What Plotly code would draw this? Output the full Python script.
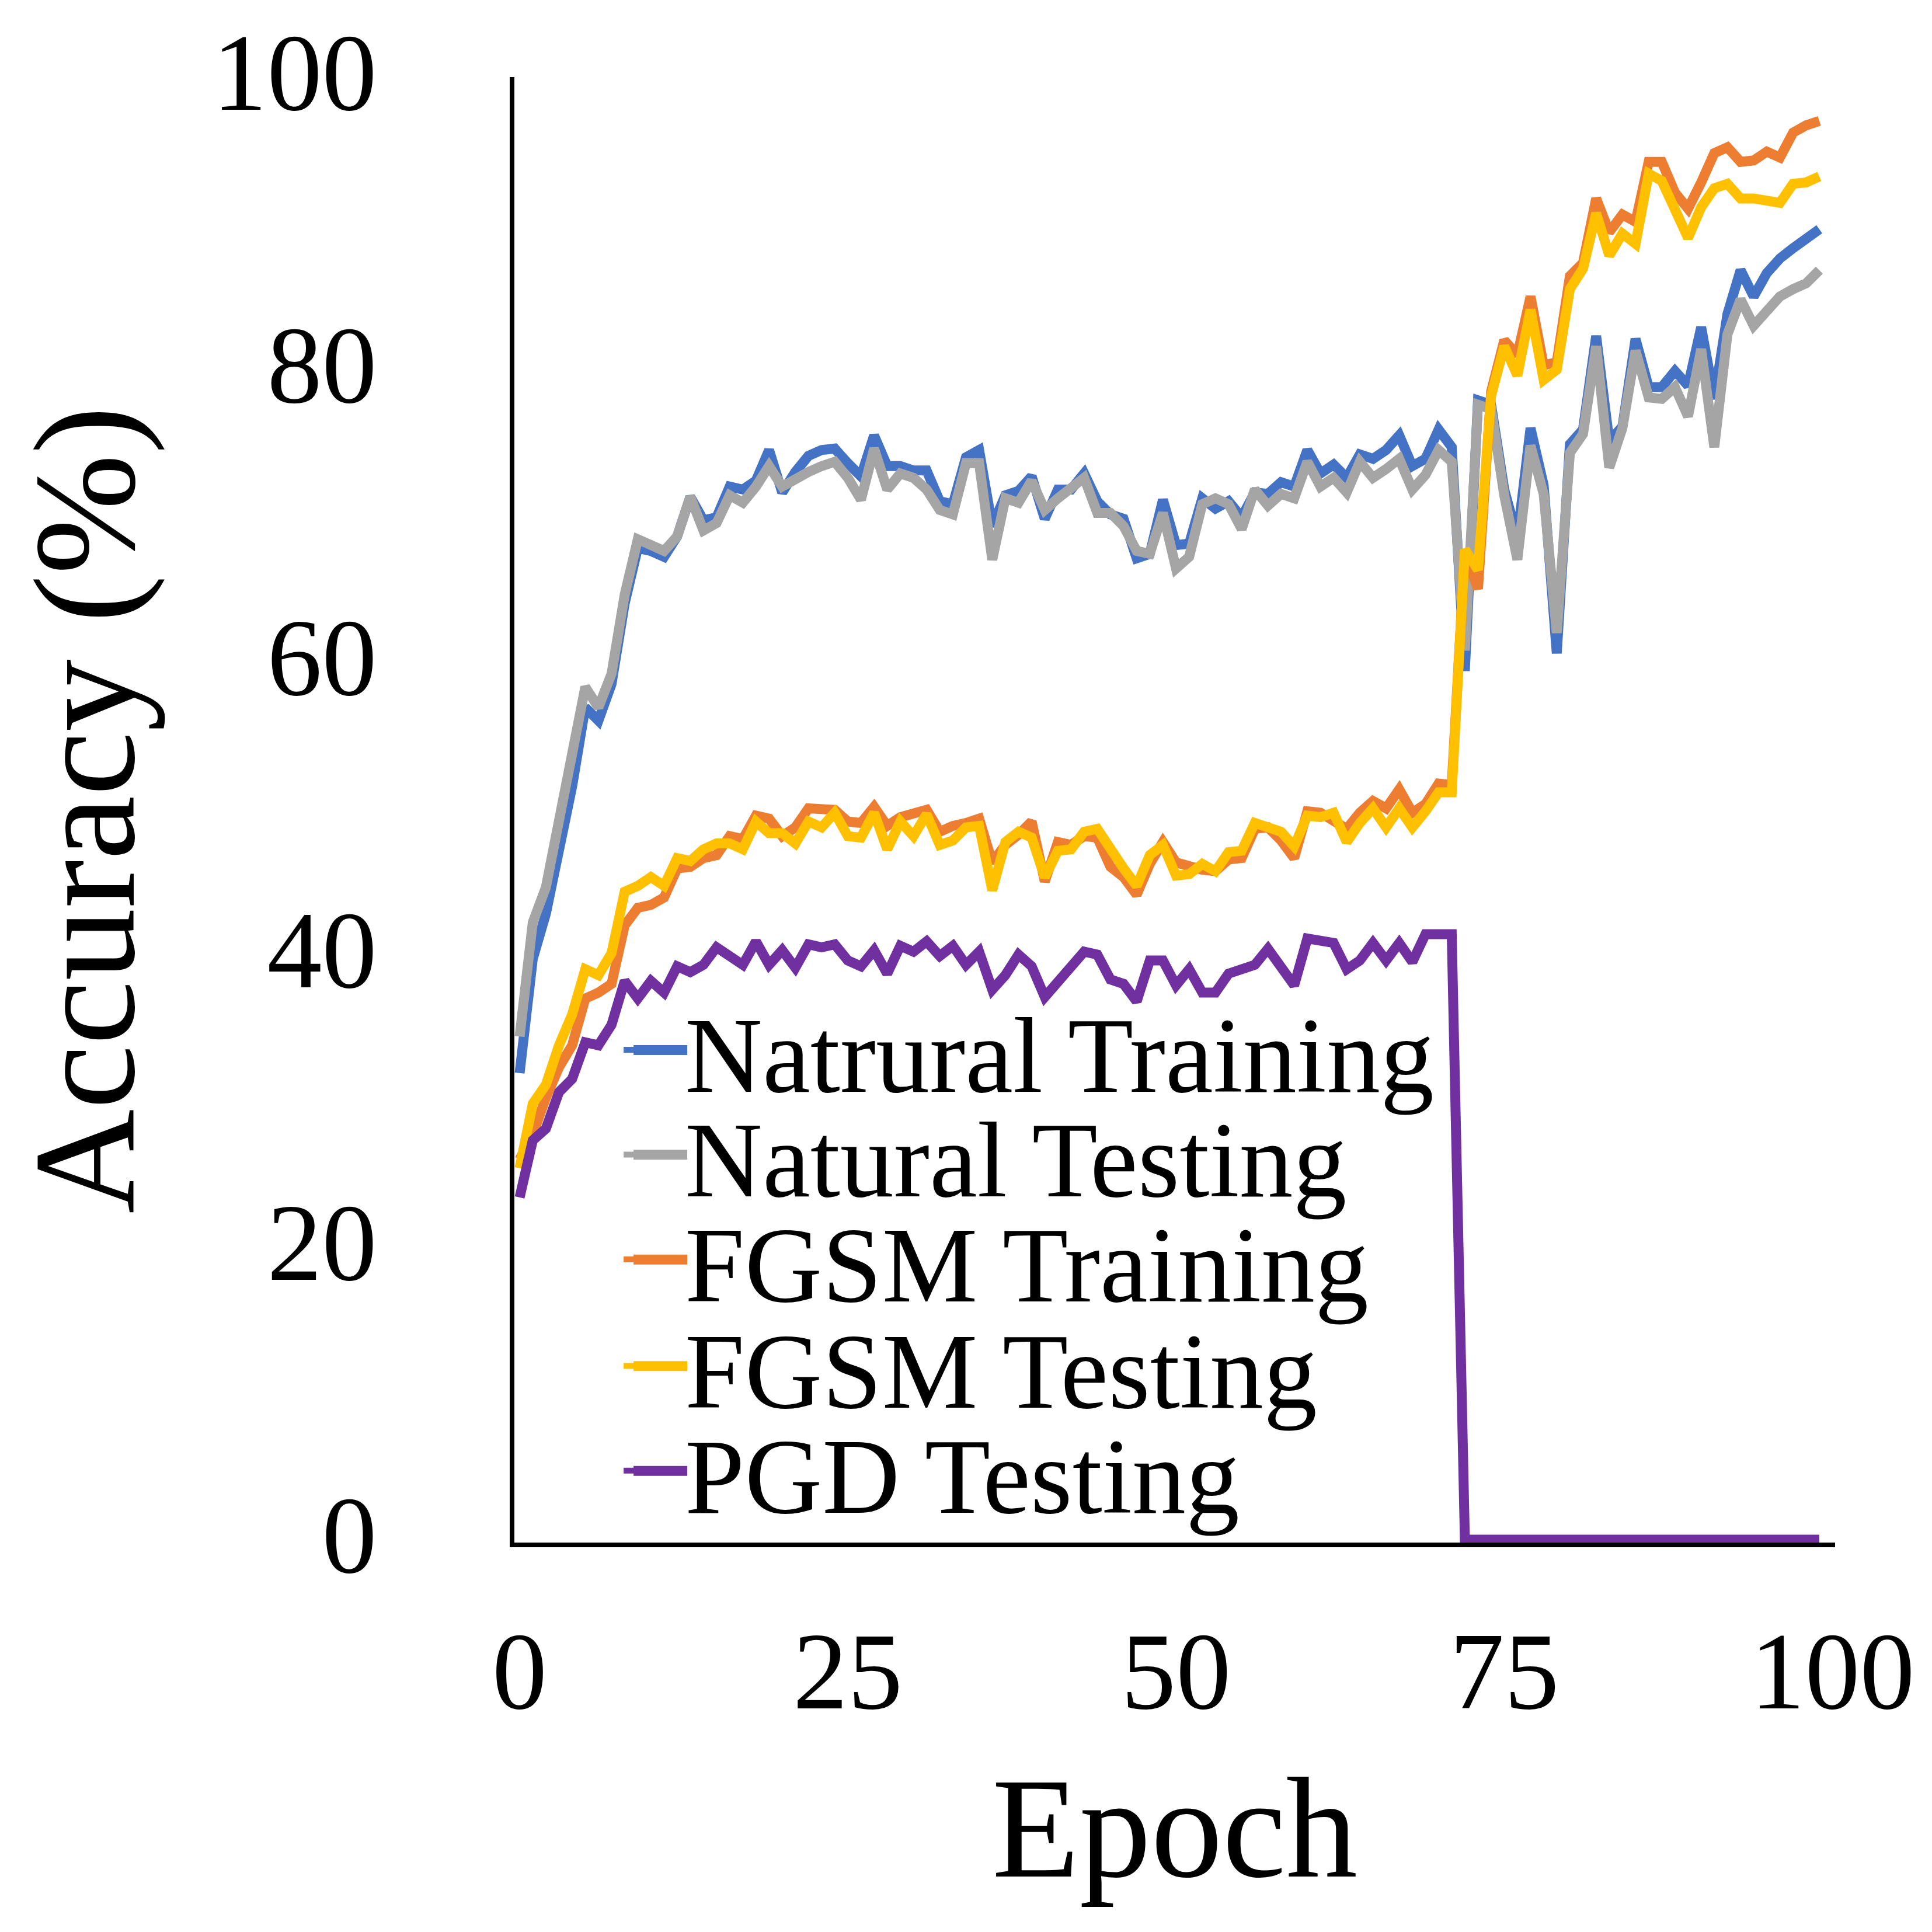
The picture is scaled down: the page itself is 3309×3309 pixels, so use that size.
import plotly.graph_objects as go

epochs = list(range(100))

natural_train = [31.9, 39.7, 42.8, 47.0, 51.5, 56.9, 56.0, 58.5, 64.0, 67.8,
                 67.6, 67.2, 68.6, 71.3, 69.7, 69.9, 72.0, 71.8, 72.4, 74.5,
                 71.6, 73.0, 74.1, 74.5, 74.6, 73.6, 72.7, 75.5, 73.4, 73.4,
                 73.1, 73.1, 71.0, 70.8, 74.0, 74.5, 69.3, 71.4, 71.7, 72.7,
                 69.8, 71.8, 71.8, 72.9, 71.0, 70.1, 69.8, 67.1, 67.4, 71.1,
                 68.0, 68.1, 71.2, 70.5, 71.0, 69.9, 71.6, 71.5, 72.3, 72.0,
                 74.5, 72.9, 73.5, 72.6, 74.2, 73.9, 74.5, 75.5, 73.4, 73.9,
                 75.9, 74.7, 59.4, 77.9, 77.6, 71.8, 68.5, 76.0, 72.1, 60.6,
                 74.9, 75.9, 82.3, 75.1, 76.1, 82.1, 78.8, 78.8, 79.9, 78.9,
                 82.9, 78.0, 83.8, 86.8, 85.0, 86.6, 87.6, 88.3, 89.0, 89.6]

natural_test = [34.4, 42.2, 44.6, 49.3, 53.7, 58.3, 56.9, 59.2, 64.6, 68.4,
                68.0, 67.6, 68.6, 71.3, 69.0, 69.5, 71.4, 70.9, 72.0, 73.4,
                72.0, 72.6, 73.0, 73.4, 73.7, 72.6, 71.1, 74.6, 71.8, 72.9,
                72.6, 71.8, 70.4, 70.1, 73.6, 73.6, 67.0, 71.2, 70.9, 72.4,
                70.4, 71.2, 71.8, 72.6, 70.2, 70.2, 69.3, 67.6, 67.4, 70.2,
                66.4, 67.2, 70.8, 71.2, 70.8, 69.1, 71.8, 70.7, 71.5, 71.2,
                73.7, 72.0, 72.6, 71.6, 73.7, 72.6, 73.2, 73.9, 71.8, 72.8,
                74.5, 73.7, 60.8, 77.6, 77.3, 71.4, 67.0, 74.8, 71.5, 62.0,
                74.3, 75.6, 81.6, 73.3, 76.0, 81.3, 78.1, 78.0, 78.8, 76.8,
                81.4, 74.7, 82.4, 84.8, 83.0, 84.1, 85.0, 85.5, 85.9, 86.8]

fgsm_train = [26.0, 27.7, 30.2, 32.3, 33.8, 37.0, 37.4, 38.0, 42.0, 43.2,
              43.4, 43.9, 45.9, 46.0, 46.6, 46.8, 48.1, 47.9, 49.5, 49.3,
              48.1, 48.7, 50.0, 50.0, 49.9, 49.1, 49.0, 50.1, 48.8, 49.4,
              49.7, 49.9, 48.4, 48.8, 49.0, 49.3, 46.3, 47.5, 48.2, 49.1,
              45.0, 47.7, 47.5, 48.1, 48.0, 46.0, 45.3, 44.1, 46.2, 47.7,
              46.3, 46.0, 45.8, 45.7, 46.5, 46.6, 48.6, 48.7, 47.8, 46.6,
              49.8, 49.7, 49.2, 48.6, 49.7, 50.5, 50.0, 51.3, 49.7, 50.3,
              51.7, 51.6, 67.6, 65.0, 78.5, 82.0, 81.0, 85.0, 80.3, 80.5,
              86.4, 87.3, 91.7, 89.4, 90.6, 90.1, 94.2, 94.2, 92.1, 91.0,
              92.8, 94.8, 95.2, 94.2, 94.3, 94.9, 94.5, 96.2, 96.7, 97.0]

fgsm_test = [25.4, 29.8, 31.1, 33.8, 35.9, 39.0, 38.6, 40.1, 44.3, 44.7,
             45.3, 44.7, 46.6, 46.4, 47.2, 47.6, 47.6, 47.2, 49.1, 48.3,
             48.3, 47.6, 49.1, 48.7, 49.7, 48.1, 48.0, 49.7, 47.2, 49.1,
             48.1, 49.6, 47.5, 47.8, 48.7, 48.8, 44.4, 47.7, 48.4, 48.0,
             45.3, 47.1, 47.2, 48.4, 48.6, 47.1, 45.9, 44.7, 46.8, 47.5,
             45.4, 45.5, 46.2, 45.7, 47.0, 47.1, 49.0, 48.7, 48.4, 47.4,
             49.5, 49.4, 49.7, 47.7, 49.0, 50.0, 48.7, 50.0, 48.7, 49.8,
             51.1, 51.1, 67.7, 66.3, 78.2, 81.6, 79.6, 84.1, 79.3, 80.0,
             85.5, 86.9, 90.7, 87.8, 89.3, 88.6, 93.4, 92.9, 91.1, 89.0,
             91.1, 92.4, 92.7, 91.7, 91.7, 91.5, 91.4, 92.7, 92.8, 93.2]

pgd_test = [23.4, 27.3, 28.1, 30.6, 31.5, 34.0, 33.8, 35.2, 38.2, 37.0,
            38.2, 37.4, 39.2, 38.8, 39.3, 40.5, 39.9, 39.3, 40.9, 39.3,
            40.3, 39.1, 40.7, 40.5, 40.7, 39.6, 39.2, 40.3, 38.7, 40.6,
            40.2, 40.9, 39.9, 40.6, 39.3, 40.2, 37.6, 38.6, 40.0, 39.2,
            37.1, 38.1, 39.0, 40.2, 40.0, 38.3, 38.0, 36.8, 39.6, 39.6,
            37.9, 39.0, 37.4, 37.4, 38.7, 39.0, 39.3, 40.4, 39.0, 37.9,
            41.1, 40.9, 40.8, 39.0, 39.6, 40.8, 39.6, 40.8, 39.5, 41.4,
            41.4, 41.4, 0, 0, 0, 0, 0, 0, 0, 0,
            0, 0, 0, 0, 0, 0, 0, 0, 0, 0,
            0, 0, 0, 0, 0, 0, 0, 0, 0, 0]

names = ["Natrural Training", "Natural Testing", "FGSM Training",
         "FGSM Testing", "PGD Testing"]
colors = ["#4472C4", "#A5A5A5", "#ED7D31", "#FFC000", "#7030A0"]
series = [natural_train, natural_test, fgsm_train, fgsm_test, pgd_test]

font = "Liberation Serif, Times New Roman, serif"
plot_w = 3309 - 873 - 174

fig = go.Figure()
legend_ids = ["legend", "legend2", "legend3", "legend4", "legend5"]
for name, col, vals, lid in zip(names, colors, series, legend_ids):
    fig.add_trace(go.Scatter(x=epochs, y=vals, mode="lines", name=name,
                             line=dict(color=col, width=17),
                             legend=lid))

# one legend per row so the rows can sit as tightly as in the original
legend_x = 0.0805
legend_rows = [0.3361, 0.2646, 0.1931, 0.1204, 0.0489]
legends = {}
for lid, ypos in zip(legend_ids, legend_rows):
    legends[lid] = dict(x=legend_x, y=ypos, xanchor="left", yanchor="middle",
                        bgcolor="rgba(0,0,0,0)", borderwidth=0,
                        font=dict(family=font, size=184, color="black"),
                        itemwidth=100)

# plotly caps the legend line width, so thicken the keys to match the chart
key_shapes = []
for col, ypos in zip(colors, legend_rows):
    key_shapes.append(dict(type="line", xref="paper", yref="paper",
                           x0=legend_x + 22 / plot_w, x1=legend_x + 114 / plot_w,
                           y0=ypos, y1=ypos,
                           line=dict(color=col, width=17)))

fig.update_layout(
    width=3309, height=3309,
    margin=dict(l=873, r=174, t=117, b=675),
    paper_bgcolor="white", plot_bgcolor="white",
    showlegend=True,
    shapes=key_shapes,
    **legends,
    xaxis=dict(range=[-0.4, 100.2], tickvals=[0, 25, 50, 75, 100],
               showgrid=False, zeroline=False, showline=True,
               linecolor="black", linewidth=8, ticks="",
               layer="below traces",
               ticklabelstandoff=50,
               tickfont=dict(family=font, size=188, color="black"),
               title=dict(text="Epoch", standoff=80,
                          font=dict(family=font, size=245, color="black"))),
    yaxis=dict(range=[-0.2, 100], tickvals=[0, 20, 40, 60, 80, 100],
               showgrid=False, zeroline=False, showline=True,
               linecolor="black", linewidth=8, ticks="",
               layer="below traces",
               ticklabelstandoff=190, ticklabelshift=-10,
               tickfont=dict(family=font, size=188, color="black"),
               title=dict(text="Accuracy (%)", standoff=75,
                          font=dict(family=font, size=248, color="black"))),
)

fig.write_html("out.html")
